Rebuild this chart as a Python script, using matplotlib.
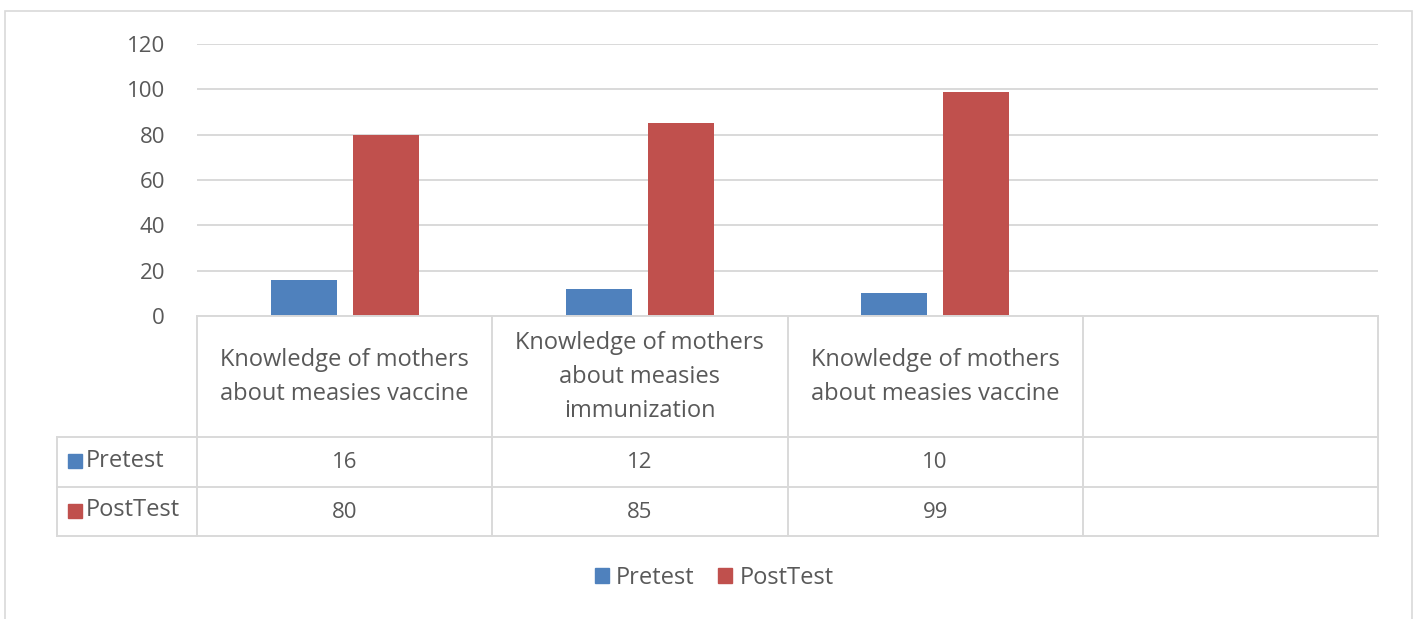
import numpy as np
import matplotlib.pyplot as plt
from matplotlib.lines import Line2D
from matplotlib.patches import Rectangle

categories = ["Knowledge of mothers\nabout measies vaccine",
              "Knowledge of mothers\nabout measies\nimmunization",
              "Knowledge of mothers\nabout measies vaccine",
              ""]
series = ["Pretest", "PostTest"]
pretest = [16, 12, 10, np.nan]
posttest = [80, 85, 99, np.nan]
yticks = [0, 20, 40, 60, 80, 100, 120]

colors = ["#4F81BD", "#C0504D"]
grid_c = "#D9D9D9"
text_c = "#595959"
plt.rcParams['font.family'] = ['Open Sans', 'DejaVu Sans']

W, H = 1416, 619
fig = plt.figure(figsize=(W / 100, H / 100), dpi=100)


def fx(px):
    return px / W


def fy(py):
    return 1 - py / H


# outer chart border
fig.patches.append(Rectangle((fx(5), fy(640)), fx(1412) - fx(5), fy(11) - fy(640),
                             transform=fig.transFigure, fill=False,
                             edgecolor=grid_c, lw=1.2))

x0, x1 = 197, 1378
ytop, yzero = 44, 316
ax = fig.add_axes([fx(x0), fy(yzero), fx(x1) - fx(x0), fy(ytop) - fy(yzero)])

n = len(categories)
x = np.arange(n)
w = 0.224
off = 0.139
ax.bar(x - off, pretest, w, color=colors[0], zorder=3)
ax.bar(x + off, posttest, w, color=colors[1], zorder=3)

ax.set_xlim(-0.5, n - 0.5)
ax.set_ylim(0, 120)
ax.set_yticks(yticks)
ax.set_xticks([])
ax.tick_params(axis='y', length=0, pad=23, labelsize=16, labelcolor=text_c)
ax.yaxis.grid(True, color=grid_c, lw=1.4)
ax.set_axisbelow(True)
for s in ax.spines.values():
    s.set_visible(False)

# data table
row_tops = [316, 437, 487, 536]
cat_w = (x1 - x0) / n
edges = [x0 + cat_w * k for k in range(n + 1)]


def hline(py, xa, xb):
    fig.lines.append(Line2D([fx(xa), fx(xb)], [fy(py), fy(py)],
                            transform=fig.transFigure, color=grid_c, lw=1.4))


def vline(px, ya, yb):
    fig.lines.append(Line2D([fx(px), fx(px)], [fy(ya), fy(yb)],
                            transform=fig.transFigure, color=grid_c, lw=1.4))


hline(316, x0, x1)
for py in row_tops[1:]:
    hline(py, 57, x1)
vline(57, 437, 536)
for e in edges:
    vline(e, 316, 536)

for k, lab in enumerate(categories):
    cx = (edges[k] + edges[k + 1]) / 2
    fig.text(fx(cx), fy(377), lab, ha='center', va='center', fontsize=17,
             color=text_c, linespacing=1.55)

for r, (name, vals) in enumerate(zip(series, [pretest, posttest])):
    cy = (row_tops[r + 1] + row_tops[r + 2]) / 2
    fig.patches.append(Rectangle((fx(68), fy(cy - 1) - 7 / H), 14 / W, 14 / H,
                                 transform=fig.transFigure, color=colors[r]))
    fig.text(fx(86), fy(cy - 1), name, ha='left', va='center', fontsize=17,
             color=text_c)
    for k, v in enumerate(vals):
        if not np.isnan(v):
            cx = (edges[k] + edges[k + 1]) / 2
            fig.text(fx(cx), fy(cy + 1), f"{v:g}", ha='center', va='center',
                     fontsize=16, color=text_c)

# legend
handles = [Rectangle((0, 0), 1, 1, color=c) for c in colors]
fig.legend(handles, series, loc='center', bbox_to_anchor=(fx(714), fy(578)),
           ncol=2, frameon=False, fontsize=17, handlelength=0.6,
           handleheight=0.6, handletextpad=0.3, columnspacing=1.0,
           labelcolor=text_c)

fig.savefig('out.png', dpi=100)
